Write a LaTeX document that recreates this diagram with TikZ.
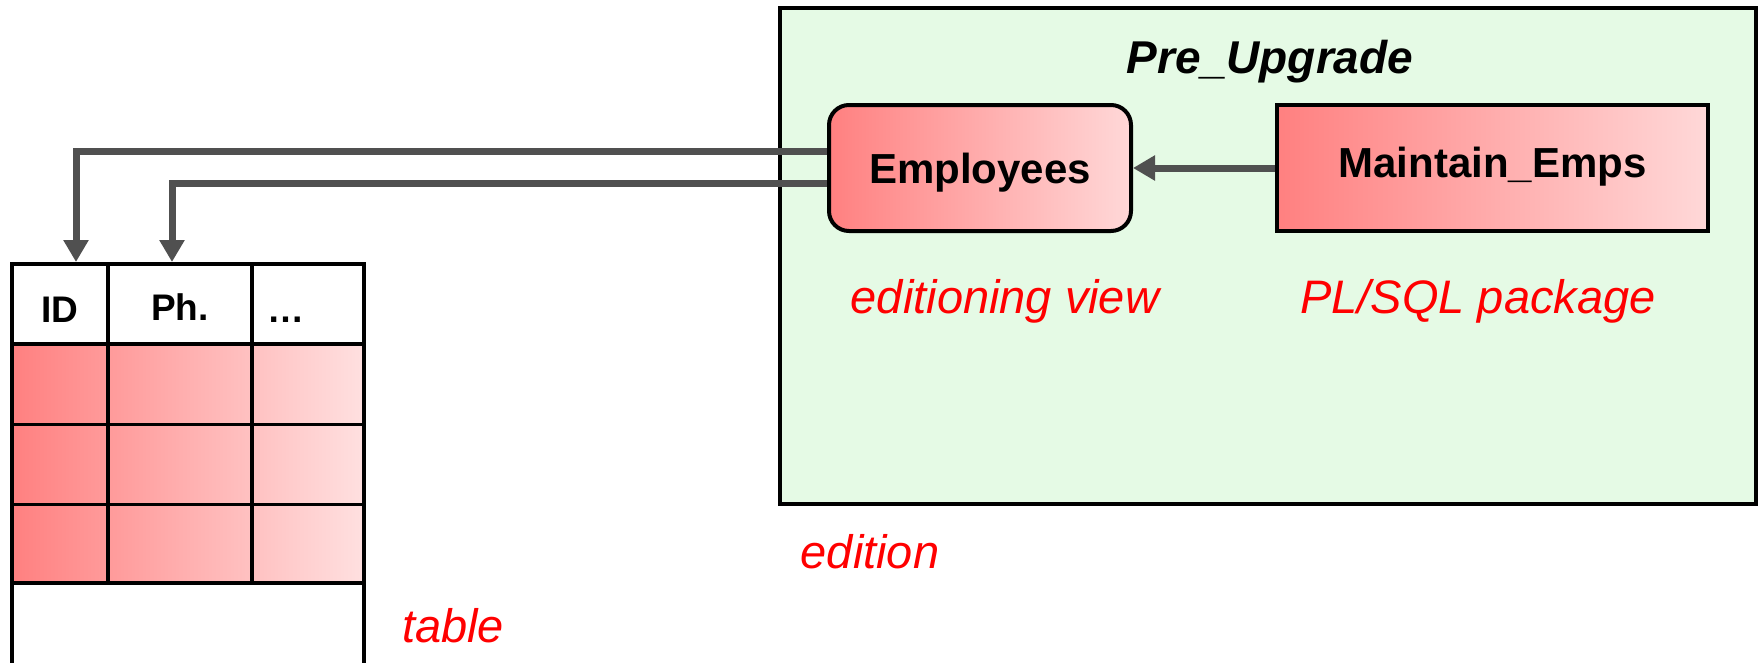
\documentclass[tikz,border=0pt]{standalone}
\usepackage{fontspec}
\setmainfont{Liberation Sans}
\usetikzlibrary{arrows.meta,calc}
\definecolor{arrgray}{HTML}{505050}
\definecolor{pinkL}{HTML}{FF8080}
\definecolor{pinkR}{HTML}{FFD8D8}
\definecolor{pinkT}{HTML}{FFE0E0}
\definecolor{edgreen}{HTML}{E5FAE5}
\definecolor{lblred}{HTML}{FF0000}
\begin{document}
\begin{tikzpicture}[x=1pt,y=-1pt,
  conn/.style={draw=arrgray,line width=7pt,-{Triangle[length=22pt,width=24pt]}},
  objbox/.style={draw=black,line width=4pt,left color=pinkL,right color=pinkR,inner sep=0pt,
    font=\bfseries\fontsize{42}{50}\selectfont,minimum height=126pt},
  lbl/.style={text=lblred,font=\itshape\fontsize{47}{56}\selectfont,inner sep=0pt,anchor=base},
  cell/.style={inner sep=0pt,outer sep=2pt,minimum height=80pt},
  hdrtxt/.style={inner sep=0pt,anchor=base,font=\bfseries\fontsize{37}{44}\selectfont},
  gridthick/.style={draw=black,line width=4pt},
  gridthin/.style={draw=black,line width=3pt}
]
\useasboundingbox (0,0) rectangle (1764,662);
% edition box
\draw[line width=4pt,fill=edgreen] (780,8) rectangle (1756,504);
\node[font=\bfseries\itshape\fontsize{46}{55}\selectfont,anchor=base,inner sep=0pt] (title) at (1270,73) {Pre\_Upgrade};
\node[objbox,rounded corners=20pt,minimum width=302pt,text height=31pt,text depth=-2pt] (emp) at (980,168) {Employees};
\node[objbox,minimum width=431pt,text height=30pt,text depth=12pt] (pkg) at (1492.5,168) {Maintain\_Emps};
\draw[conn] (pkg.west) -- (emp.east);
\node[lbl] (lview) at (1005,313) {editioning view};
\node[lbl] (lpkg) at (1478,313) {PL/SQL package};
\node[lbl] (led) at (870,568) {edition};
% table
\shade[left color=pinkL,right color=pinkT] (12,344) rectangle (364,583);
\draw[gridthin] (12,424) -- (364,424);
\draw[gridthin] (12,504) -- (364,504);
\draw[gridthick] (108,264) -- (108,583);
\draw[gridthick] (252,264) -- (252,583);
\draw[gridthick] (12,344) -- (364,344);
\draw[gridthick] (12,583) -- (364,583);
\draw[gridthick] (12,664) -- (12,264) -- (364,264) -- (364,664);
\node[cell,minimum width=96pt] (cid) at (60,304) {};
\node[cell,minimum width=144pt] (cph) at (180,304) {};
\node[cell,minimum width=112pt] (cmore) at (308,304) {};
\node[hdrtxt] (tid) at (60,322) {ID};
\node[hdrtxt] (tph) at (180,320) {Ph.};
\node[hdrtxt,anchor=base west] (tmore) at (267,322) {…};
\node[lbl] (ltab) at (453,642) {table};
% connectors
\draw[conn] ([yshift=17pt]emp.west) -| ([xshift=16pt]cid.north);
\draw[conn] ([yshift=-15pt]emp.west) -| ([xshift=-8pt]cph.north);
\end{tikzpicture}
\end{document}
